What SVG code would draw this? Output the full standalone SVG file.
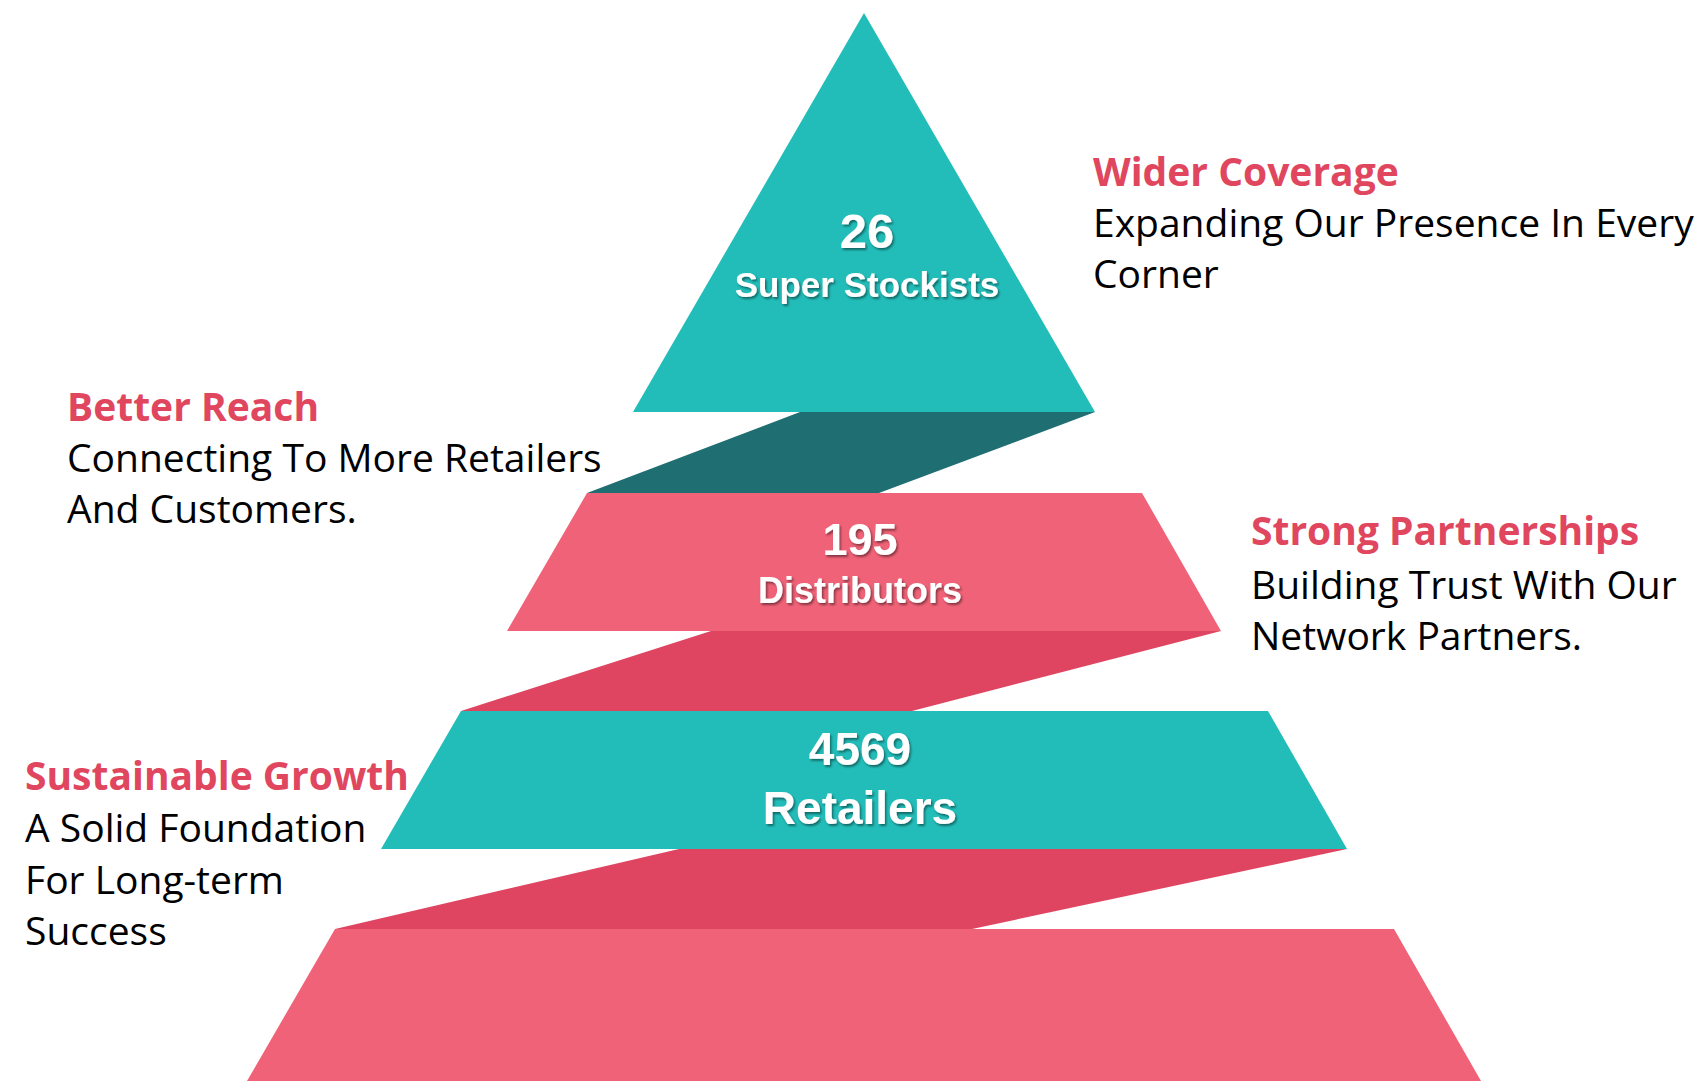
<svg xmlns="http://www.w3.org/2000/svg" width="1699" height="1081" viewBox="0 0 1699 1081">
<defs>
<filter id="sh" x="-10%" y="-10%" width="130%" height="140%">
<feDropShadow dx="1.5" dy="2" stdDeviation="1.2" flood-color="#000" flood-opacity="0.45"/>
</filter>
<style>
.teal{fill:#22BDB9}
.dteal{fill:#1F6E72}
.pink{fill:#F06277}
.dpink{fill:#DF4560}
.num{font-family:"Liberation Sans",Arial,sans-serif;font-weight:bold;fill:#fff;text-anchor:middle;filter:url(#sh)}
.head{font-family:"Open Sans","Liberation Sans",sans-serif;font-weight:bold;fill:#E0475F;font-size:39px}
.body{font-family:"Open Sans","Liberation Sans",sans-serif;fill:#000;font-size:39px}
</style>
</defs>
<rect width="1699" height="1081" fill="#fff"/>
<g id="connectors">
<polygon class="dteal" points="800,412 1095,412 879,493 587,493"/>
<polygon class="dpink" points="711,631 1221,631 912,711 461,711"/>
<polygon class="dpink" points="679,849 1347,849 972,929 335,929"/>
</g>
<g id="super-stockists">
<polygon class="teal" points="864,13 1095,412 633,412"/>
<text class="num" x="867" y="248" font-size="49">26</text>
<text class="num" x="867" y="297" font-size="35">Super Stockists</text>
</g>
<g id="distributors">
<polygon class="pink" points="587,493 1142,493 1221,631 507,631"/>
<text class="num" x="860" y="555" font-size="45">195</text>
<text class="num" x="860" y="603" font-size="36">Distributors</text>
</g>
<g id="retailers">
<polygon class="teal" points="461,711 1268,711 1347,849 381,849"/>
<text class="num" x="860" y="765" font-size="46">4569</text>
<text class="num" x="860" y="824" font-size="46">Retailers</text>
</g>
<g id="base">
<polygon class="pink" points="335,929 1394,929 1481,1081 247,1081"/>
</g>
<g id="wider-coverage">
<text class="head" x="1093" y="186">Wider Coverage</text>
<text class="body" x="1093" y="237">Expanding Our Presence In Every</text>
<text class="body" x="1093" y="288">Corner</text>
</g>
<g id="better-reach">
<text class="head" x="67" y="421">Better Reach</text>
<text class="body" x="67" y="472">Connecting To More Retailers</text>
<text class="body" x="67" y="523">And Customers.</text>
</g>
<g id="strong-partnerships">
<text class="head" x="1251" y="545">Strong Partnerships</text>
<text class="body" x="1251" y="599">Building Trust With Our</text>
<text class="body" x="1251" y="650">Network Partners.</text>
</g>
<g id="sustainable-growth">
<text class="head" x="25" y="790">Sustainable Growth</text>
<text class="body" x="25" y="842">A Solid Foundation</text>
<text class="body" x="25" y="894">For Long-term</text>
<text class="body" x="25" y="945">Success</text>
</g>
</svg>
